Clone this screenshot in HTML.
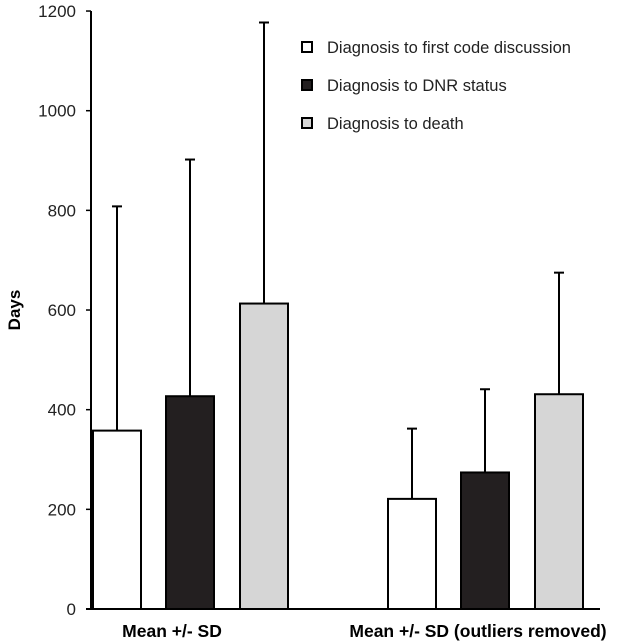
<!DOCTYPE html>
<html><head><meta charset="utf-8"><style>
body{margin:0;background:#fff}
svg{display:block;font-family:"Liberation Sans",Arial,sans-serif}
</style></head><body>
<svg id="chart" width="626" height="643">
<g id="axis"></g><g id="bars"></g><g id="legend"></g>
</svg>
<script>
const groups=["Mean +/- SD","Mean +/- SD (outliers removed)"];
const series=["Diagnosis to first code discussion","Diagnosis to DNR status","Diagnosis to death"];
const fills=["#ffffff","#231f20","#d6d6d6"];
const meanFirst=[358,221];
const meanDNR=[427,274];
const meanDeath=[613,431];
const sdTopFirst=[808,362];
const sdTopDNR=[902,441];
const sdTopDeath=[1177,675];
const ticks=[0,200,400,600,800,1000,1200];
const NS="http://www.w3.org/2000/svg";
const y=v=>609-v*0.4983;
const groupX=[93,388], barOff=[0,73,147], barW=48, labelX=[172,478];
function mk(t,a,p){const e=document.createElementNS(NS,t);for(const k in a)e.setAttribute(k,a[k]);p.appendChild(e);return e;}
const ax=document.getElementById('axis');
let l=mk('line',{x1:91,x2:91,y1:y(1200),y2:y(0),stroke:'#000','stroke-width':2},ax);


l=mk('line',{x1:86,x2:600,y1:y(0),y2:y(0),stroke:'#000','stroke-width':2},ax);


ticks.forEach(t=>{
 let tk=mk('line',{x1:86,x2:91,y1:y(t),y2:y(t),stroke:'#000','stroke-width':1.5},ax);
 
 
 let tx=mk('text',{x:76,y:y(t)+6,'text-anchor':'end','font-size':17,fill:'#222'},ax);tx.textContent=t;
 
 
});
let yt=mk('text',{x:0,y:0,transform:'translate(20,'+y(600)+') rotate(-90)','text-anchor':'middle','font-size':17,'font-weight':'bold'},ax);yt.textContent='Days';


const bg=document.getElementById('bars');
const means=[meanFirst,meanDNR,meanDeath], sds=[sdTopFirst,sdTopDNR,sdTopDeath];
groups.forEach((g,gi)=>{
 series.forEach((s,si)=>{
  const x=groupX[gi]+barOff[si], cx=x+barW/2;
  let st=mk('line',{x1:cx,x2:cx,y1:y(sds[si][gi]),y2:y(means[si][gi]),stroke:'#000','stroke-width':2},bg);
  
  
  let cp=mk('line',{x1:cx-5,x2:cx+5,y1:y(sds[si][gi]),y2:y(sds[si][gi]),stroke:'#000','stroke-width':2},bg);
  
  
  let r=mk('rect',{x:x,y:y(means[si][gi]),width:barW,height:y(0)-y(means[si][gi]),fill:fills[si],stroke:'#000','stroke-width':2},bg);
  
  
 });
 let gl=mk('text',{x:labelX[gi],y:637,'text-anchor':'middle','font-size':17.5,'font-weight':'bold'},bg);gl.textContent=g;
 
 
});
const lg=document.getElementById('legend');
series.forEach((s,i)=>{
 const yy=47+i*38;
 let r=mk('rect',{x:302,y:yy-5,width:10,height:10,fill:fills[i],stroke:'#000','stroke-width':2},lg);
 
 
 let t=mk('text',{x:327,y:yy+6,'font-size':16.5,fill:'#222'},lg);t.textContent=s;
 
 
});
</script>
</body></html>
